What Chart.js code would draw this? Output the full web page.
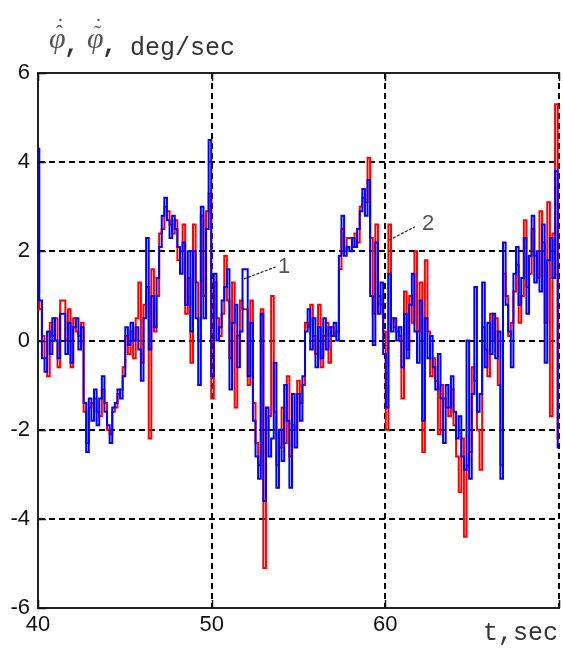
<!DOCTYPE html>
<html>
<head>
<meta charset="utf-8">
<style>
  html, body { margin: 0; padding: 0; background: #fff; }
  #wrap { width: 563px; height: 648px; }
</style>
<script src="https://cdn.jsdelivr.net/npm/chart.js@4/dist/chart.umd.min.js"></script>
</head>
<body>
<div id="wrap"><canvas id="c" width="563" height="648"></canvas></div>
<script>
// Sampling of both traces
const T_START = 40;
const T_STEP = 0.15;

// Curve 1 (blue), deg/sec
const rate1 = [
  4.3, 0.9, -0.4, -0.7, 0.2, -0.3, 0.5, 0.0, -0.4, 0.6,
  0.6, -0.3, 0.4, -0.5, 0.3, 0.5, -0.2, 0.3, -1.4, -2.5,
  -1.3, -1.8, -1.1, -1.9, -1.3, -0.8, -1.6, -1.9, -2.3, -1.5,
  -1.4, -1.1, -1.3, -0.8, 0.3, -0.1, 0.4, 0.0, 0.3, -0.2,
  -0.9, 0.5, 2.3, -0.2, 1.0, 0.3, 1.4, 2.1, 2.8, 3.2,
  2.7, 2.3, 2.8, 2.5, 2.1, 1.5, 2.2, 0.8, 2.0, 0.2,
  2.0, 0.5, -1.0, 3.0, 0.5, 2.5, 4.5, -0.8, 1.5, 0.0,
  0.3, 0.9, 1.2, 1.6, -1.1, 0.4, 0.8, -0.6, 0.2, 1.6,
  1.6, -0.8, 0.4, -1.8, -2.6, -3.1, 0.6, -3.6, -1.5, -2.6,
  -2.2, -0.5, -3.3, -2.0, -2.7, -1.0, -1.8, -3.3, -1.2, -2.4,
  -1.2, -1.8, -0.8, 0.2, 0.7, -0.2, 0.5, -0.6, 0.3, -0.4,
  0.5, -0.2, 0.3, 0.1, 0.4, 0.0, 1.9, 2.8, 1.9, 2.1,
  2.0, 2.3, 2.1, 2.5, 2.9, 3.4, 2.8, 3.6, 1.0, -0.1,
  2.2, 0.6, 1.3, -0.3, -1.5, 1.5, 0.2, 0.5, 0.0, 0.3,
  -0.6, 0.6, -0.4, 0.8, 1.5, 0.2, -0.5, 0.9, -1.8, 0.5,
  -0.4, 0.1, -0.6, -1.1, -0.3, -1.3, -2.3, -1.0, -1.5, -0.8,
  -1.6, -2.2, -1.7, -2.6, -2.9, 0.0, -3.1, -1.2, 1.2, -1.6,
  -1.2, 1.3, -0.6, 0.4, -0.3, 0.6, -0.4, 0.2, -3.1, 2.2,
  0.8, 0.2, -0.6, 1.5, 2.1, 0.8, 1.4, 2.3, 0.6, 1.9,
  2.8, 1.3, 2.0, 1.1, 2.6, -0.5, 1.8, 2.3, 1.4, 3.8,
  -2.4
];

// Curve 2 (red), deg/sec
const rate2 = [
  0.9, 0.7, 0.1, -0.4, -0.8, 0.4, 0.1, 0.5, -0.6, 0.9,
  0.9, 0.0, 0.7, -0.6, 0.5, 0.2, 0.1, 0.4, -1.6, -2.3,
  -1.5, -1.4, -1.3, -1.6, -1.7, -1.1, -1.4, -2.0, -2.1, -1.6,
  -1.5, -1.2, -1.1, -0.6, 0.1, -0.3, 0.2, -0.4, 0.5, 1.3,
  -0.5, 0.8, 1.2, -2.2, 1.6, 0.2, 1.0, 2.4, 2.5, 3.0,
  2.9, 2.6, 2.4, 2.7, 1.8, 2.0, 2.6, 0.6, 1.4, -0.5,
  2.6, 1.3, 0.0, 2.8, 1.0, 2.9, 3.3, -1.3, 1.3, 0.5,
  0.1, 0.6, 1.9, 0.9, -0.4, 1.3, -1.5, 0.1, 0.9, 0.7,
  0.7, -1.0, 0.9, -1.4, -2.3, -2.8, 0.7, -5.1, -2.0, -1.7,
  1.0, -1.6, -2.8, -2.4, -1.5, -2.3, -0.8, -2.6, -1.9, -2.0,
  -0.9, -1.4, -1.0, 0.4, 0.3, 0.8, 0.1, -0.3, 0.8, -0.6,
  0.1, 0.4, -0.5, 0.3, 0.1, 0.2, 1.6, 2.5, 2.0, 2.3,
  2.3, 2.1, 2.4, 2.2, 3.0, 3.2, 3.1, 4.1, 2.3, 0.6,
  2.6, 1.0, 0.8, 0.2, -2.0, 2.6, 0.5, 0.3, 0.2, 0.1,
  -1.3, 1.1, -0.2, 1.0, 0.4, 2.0, 0.2, 1.3, -2.5, 1.8,
  0.2, -0.8, -0.4, -0.9, -2.1, -1.0, -1.3, -1.5, -1.7, -1.1,
  -1.9, -2.6, -3.4, -2.2, -4.4, -2.8, -2.5, -0.6, -0.9, -2.0,
  -2.9, 0.3, -0.2, -0.8, 0.6, 0.0, 0.5, -1.0, -2.8, 1.5,
  1.0, 0.1, 0.4, 1.1, 1.7, 0.4, 1.0, 2.7, 1.2, 1.5,
  2.5, 1.9, 1.4, 2.9, 2.2, 0.4, 3.1, -1.7, 2.4, 5.3,
  -2.2
];

const xTicks = [40, 50, 60, 70];
const yTicks = [-6, -4, -2, 0, 2, 4, 6];

// Curve tags: anchor on the curve, end of leader, text position (data units)
const curveTags = [
  { text: '1', anchor: [51.85, 1.38], end: [53.68, 1.65], at: [54.17, 1.51] },
  { text: '2', anchor: [60.21, 2.25], end: [61.70, 2.55], at: [62.47, 2.48] }
];

const toPoints = arr => arr.map((v, i) => ({ x: T_START + i * T_STEP, y: v }));

const MONO = '"Liberation Mono", "DejaVu Sans Mono", monospace';
const SANS = '"Liberation Sans", Arial, sans-serif';
const SERIF = '"Liberation Serif", "DejaVu Serif", serif';

// phi symbol with two marks stacked above it
function drawRateSymbol(ctx, x, base, lowerMark) {
  ctx.font = 'italic 30px ' + SERIF;
  ctx.textAlign = 'left';
  ctx.fillText('\u03C6', x, base);
  const w = ctx.measureText('\u03C6').width;
  ctx.textAlign = 'center';
  ctx.font = '22px ' + SERIF;
  ctx.fillText(lowerMark, x + w / 2 + 2, base - 8);
  ctx.fillText('\u02D9', x + w / 2 + 3, base - 15);
  ctx.textAlign = 'left';
}

// Axis captions, inner tick marks and curve tags
const decorations = {
  id: 'decorations',
  afterDraw(chart) {
    const { ctx, chartArea: a, scales: { x, y } } = chart;
    ctx.save();

    // inner tick marks
    ctx.strokeStyle = '#111';
    ctx.lineWidth = 1.5;
    ctx.setLineDash([]);
    const L = 8;
    ctx.beginPath();
    xTicks.forEach(v => {
      const px = Math.round(x.getPixelForValue(v)) + 0.5;
      ctx.moveTo(px, a.bottom); ctx.lineTo(px, a.bottom - L);
      ctx.moveTo(px, a.top); ctx.lineTo(px, a.top + L);
    });
    yTicks.forEach(v => {
      const py = Math.round(y.getPixelForValue(v)) + 0.5;
      ctx.moveTo(a.left, py); ctx.lineTo(a.left + L, py);
    });
    ctx.stroke();

    // curve tags
    curveTags.forEach(tag => {
      const ax = x.getPixelForValue(tag.anchor[0]);
      const ay = y.getPixelForValue(tag.anchor[1]);
      const ex = x.getPixelForValue(tag.end[0]);
      const ey = y.getPixelForValue(tag.end[1]);
      ctx.strokeStyle = '#222';
      ctx.lineWidth = 1.2;
      ctx.setLineDash([3, 1.5]);
      ctx.beginPath();
      ctx.moveTo(ax, ay);
      ctx.lineTo(ex, ey);
      ctx.stroke();
      ctx.setLineDash([]);
      ctx.fillStyle = '#555';
      ctx.font = '22px ' + SANS;
      ctx.textAlign = 'center';
      ctx.textBaseline = 'alphabetic';
      ctx.fillText(tag.text, x.getPixelForValue(tag.at[0]), y.getPixelForValue(tag.at[1]));
    });

    // y-axis caption
    ctx.textBaseline = 'alphabetic';
    ctx.fillStyle = '#555';
    drawRateSymbol(ctx, 49, 48, '\u02C6');
    drawRateSymbol(ctx, 87, 48, '\u02DC');
    ctx.fillStyle = '#333';
    ctx.textAlign = 'left';
    ctx.font = 'bold 25px ' + MONO;
    ctx.fillText(',', 64, 52);
    ctx.fillText(',', 102, 52);
    ctx.font = '25px ' + MONO;
    ctx.fillText('deg/sec', 130, 55);

    // x-axis caption
    ctx.fillText('t,sec', 483, 640);
    ctx.restore();
  }
};

new Chart(document.getElementById('c'), {
  type: 'line',
  data: {
    datasets: [
      { label: '1', data: toPoints(rate1), borderColor: '#0000ff', borderWidth: 2,
        pointRadius: 0, tension: 0, stepped: 'middle', fill: false },
      { label: '2', data: toPoints(rate2), borderColor: '#ff0000', borderWidth: 2,
        pointRadius: 0, tension: 0, stepped: 'middle', fill: false }
    ]
  },
  options: {
    responsive: false,
    animation: false,
    devicePixelRatio: 1,
    events: [],
    layout: { padding: { left: 0, right: 1, top: 0, bottom: 0 } },
    plugins: { legend: { display: false }, tooltip: { enabled: false } },
    scales: {
      x: {
        type: 'linear', position: 'bottom', min: 40, max: 70,
        afterBuildTicks: s => { s.ticks = xTicks.map(v => ({ value: v })); },
        afterFit: s => { s.height = 40; },
        ticks: {
          callback: v => (v === 70 ? '' : String(v)),
          font: { family: SANS, size: 22 }, color: '#111', padding: 4,
          maxRotation: 0, autoSkip: false
        },
        grid: {
          color: c => (c.tick && c.tick.value === 40) ? 'rgba(0,0,0,0)' : '#000',
          lineWidth: 2, drawTicks: false
        },
        border: { display: true, color: '#222', width: 2, dash: [6, 4] }
      },
      xTop: {
        type: 'linear', position: 'top', min: 40, max: 70,
        afterFit: s => { s.height = 73; },
        ticks: { display: false },
        grid: { display: false, drawTicks: false },
        border: { display: true, color: '#222', width: 2 }
      },
      y: {
        type: 'linear', position: 'left', min: -6, max: 6,
        afterBuildTicks: s => { s.ticks = yTicks.map(v => ({ value: v })); },
        afterFit: s => { s.width = 38; },
        ticks: { font: { family: SANS, size: 22 }, color: '#111', padding: 8 },
        grid: {
          color: c => (c.tick && Math.abs(c.tick.value) === 6) ? 'rgba(0,0,0,0)' : '#000',
          lineWidth: 2, drawTicks: false
        },
        border: { display: true, color: '#222', width: 2, dash: [6, 4] }
      }
    }
  },
  plugins: [decorations]
});
</script>
</body>
</html>
